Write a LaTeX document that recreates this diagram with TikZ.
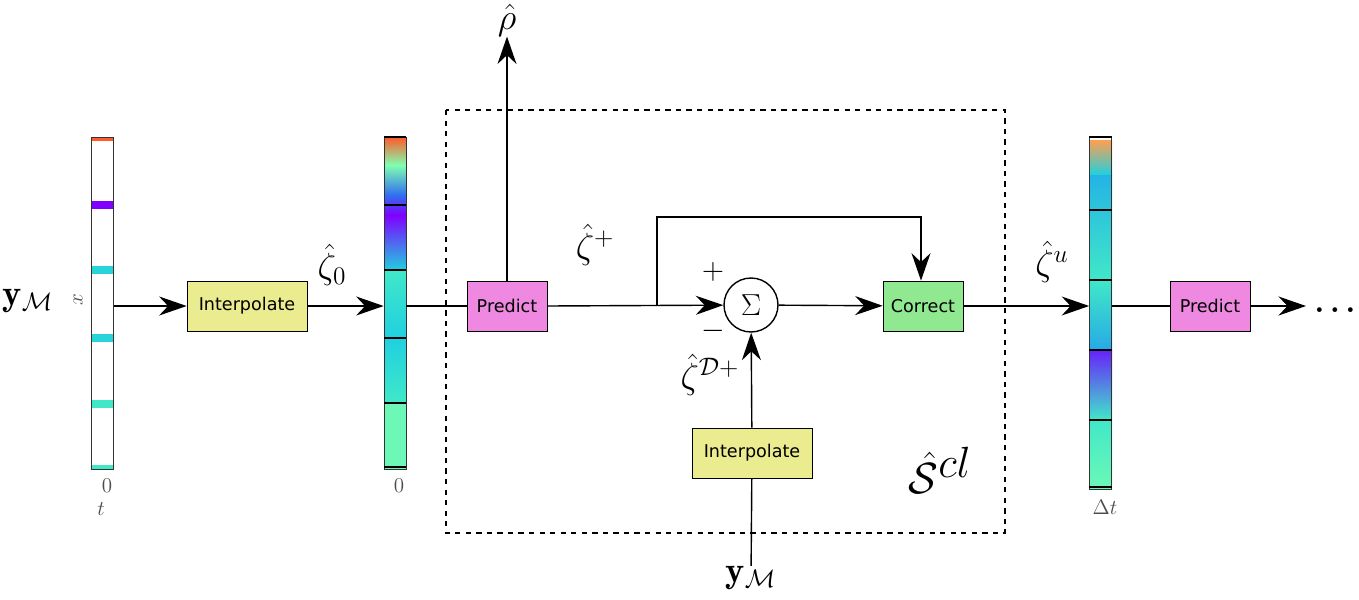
\documentclass[tikz,border=0pt]{standalone}
\usepackage{amsmath,amssymb}
\usepackage{fontspec}
\setsansfont{DejaVu Sans}
\usetikzlibrary{arrows.meta, positioning, calc}
\definecolor{boxyellow}{HTML}{EBEB8F}
\definecolor{boxpink}{HTML}{EE88E0}
\definecolor{boxgreen}{HTML}{90E890}
\definecolor{jred}{HTML}{FF5A28}
\definecolor{jorange}{HTML}{FFA050}
\definecolor{jgreen}{HTML}{80FFB0}
\definecolor{jcyan}{HTML}{20D0E0}
\definecolor{jblue}{HTML}{3070F0}
\definecolor{jpurple}{HTML}{7F00FF}
\definecolor{jteal}{HTML}{40E8C8}
\begin{document}
\begin{tikzpicture}[x=0.02cm, y=-0.02cm]
	% Styles for blocks and arrows.
	\tikzset{
		block/.style={draw, rectangle, minimum height=1cm, minimum width=2.4cm, align=center, font=\sffamily\fontsize{10}{12}\selectfont},
		small/.style={block, minimum width=1.6cm},
		sum/.style={draw, circle, minimum size=1.08cm, inner sep=0pt, thick, font=\LARGE},
		strip/.style={draw=black!80, rectangle, minimum width=0.44cm, inner sep=0pt},
		line/.style={-{Stealth[length=5.5mm, width=3.8mm]}, thick},
		plain/.style={thick},
		lab/.style={font=\huge, inner sep=0pt},
		tick/.style={text=black!70, font=\large}
	}
	\useasboundingbox (0,0) rectangle (1359,599);
	
	% === STRIPS ===
	% sparse measurements
	\fill[jred] (92,137) rectangle (113,141);
	\fill[jpurple] (92,201) rectangle (113,209);
	\fill[jcyan!80!jteal] (92,266) rectangle (113,274);
	\fill[jcyan!80!jteal] (92,334) rectangle (113,342);
	\fill[jteal] (92,400) rectangle (113,408);
	\fill[jteal] (92,465) rectangle (113,469);
	\node[strip, minimum height=6.64cm] (meas) at (102.5,303) {};
	\node[rotate=90, tick] (xlab) at (78,300) {$x$};
	\node[tick] (t0) at (107,486) {$0$};
	\node[tick] (tlab) at (101,509) {$t$};
	
	% interpolated field
	\shade[top color=jred, bottom color=jgreen] (384,137) rectangle (406,165);
	\shade[top color=jgreen, bottom color=jblue] (384,165) rectangle (406,195);
	\shade[top color=jblue, bottom color=jpurple] (384,195) rectangle (406,215);
	\shade[top color=jpurple, bottom color=jcyan] (384,215) rectangle (406,270);
	\shade[top color=jteal, bottom color=jcyan] (384,270) rectangle (406,338);
	\shade[top color=jcyan, bottom color=jteal] (384,338) rectangle (406,403);
	\fill[jgreen!70!jteal] (384,403) rectangle (406,469);
	\node[strip, minimum height=6.64cm] (field0) at (395,303) {};
	\foreach \yy in {137,205,270,338,403,467}
		\draw[thick] (384,\yy) -- (406,\yy);
	\node[tick] (z0) at (399,486) {$0$};
	
	% updated field
	\shade[top color=jorange, bottom color=jcyan] (1089,140) rectangle (1112,175);
	\shade[top color=jcyan!70!jblue, bottom color=jteal] (1089,175) rectangle (1112,280);
	\shade[top color=jteal, bottom color=jcyan!60!jblue] (1089,280) rectangle (1112,350);
	\shade[top color=jpurple!70!jblue, bottom color=jteal] (1089,350) rectangle (1112,420);
	\shade[top color=jteal, bottom color=jgreen!70!jteal] (1089,420) rectangle (1112,489);
	\node[strip, minimum height=7.04cm] (fieldu) at (1100.5,313) {};
	\foreach \yy in {137,210,280,350,420,487}
		\draw[thick] (1089,\yy) -- (1112,\yy);
	\node[tick] (dt) at (1105,507) {$\Delta t$};
	
	% === NODES ===
	\node[lab] (ymL) at (28,301) {$\mathbf{y}_{\mathcal{M}}$};
	\node[block, fill=boxyellow] (interp1) at (247,306) {Interpolate};
	\node[small, fill=boxpink] (pred1) at (507,306) {Predict};
	\node[sum] (summer) at (751,305) {$\Sigma$};
	\node[small, fill=boxgreen] (corr) at (923,306) {Correct};
	\node[block, fill=boxyellow] (interp2) at (752,453) {Interpolate};
	\node[small, fill=boxpink] (pred2) at (1210,306) {Predict};
	\node[lab] (ymB) at (751,578) {$\mathbf{y}_{\mathcal{M}}$};
	\node[lab] (rho) at (507,20) {$\hat{\rho}$};
	\node[font=\LARGE, inner sep=0pt] (dots) at (1338,310) {$\boldsymbol{\dots}$};
	\coordinate (split) at (657,305);
	\coordinate (fb) at (921,217);
	\coordinate (outend) at (1306,306);
	
	% dashed closed-loop block
	\draw[dashed, thick] (446,110) rectangle (1005,533);
	\node[font=\fontsize{40}{44}\selectfont] (scl) at (940,470) {$\hat{\mathcal{S}}^{cl}$};
	
	% labels of the signals
	\node[lab] (z0lab) at (332,265) {$\hat{\zeta}_0$};
	\node[lab] (zplab) at (595,245) {$\hat{\zeta}^+$};
	\node[lab] (zdlab) at (710,375) {$\hat{\zeta}^{\mathcal{D}+}$};
	\node[lab] (zulab) at (1052,262) {$\hat{\zeta}^u$};
	\node[font=\LARGE] (plus) at (713,272) {$+$};
	\node[font=\LARGE] (minus) at (713,331) {$-$};
	
	% === CONNECTIONS ===
	\draw[line] (meas.east |- interp1) -- (interp1);
	\draw[line] (interp1) -- (field0.west |- interp1);
	\draw[plain] (field0.east |- pred1) -- (pred1);
	\draw[line] (pred1) -- (rho);
	\draw[line] (pred1.east) -- (summer);
	\draw[line] (split) |- (fb) -- (corr.north -| fb);
	\draw[line] (summer) -- (corr);
	\draw[plain] (ymB) -- (interp2);
	\draw[line] (interp2) -- (summer);
	\draw[line] (corr) -- (fieldu.west |- corr);
	\draw[plain] (fieldu.east |- pred2) -- (pred2);
	\draw[line] (pred2) -- (outend);
\end{tikzpicture}
\end{document}
